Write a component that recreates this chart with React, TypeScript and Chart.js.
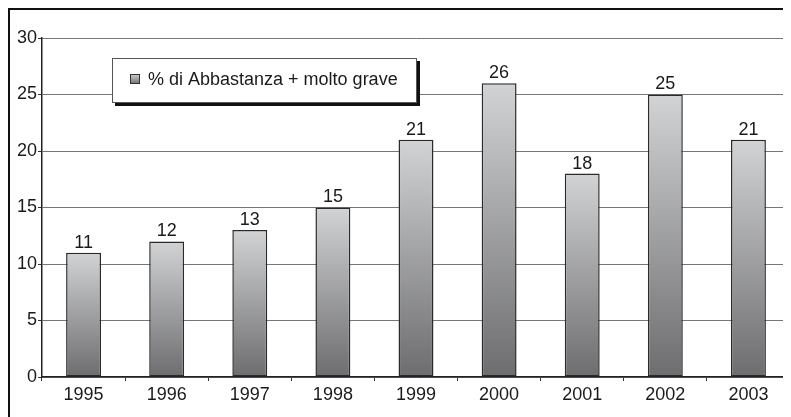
import React, { useEffect, useRef } from "react";
import { Chart, registerables } from "chart.js";

Chart.register(...registerables);

const categories = ["1995", "1996", "1997", "1998", "1999", "2000", "2001", "2002", "2003"];
const values = [11, 12, 13, 15, 21, 26, 18, 25, 21];
const seriesLabel = "% di Abbastanza + molto grave";
const yMin = 0;
const yMax = 30;
const yStep = 5;

const FONT = "'Liberation Sans', Arial, Helvetica, sans-serif";
const FS = 18;

const frame = {
  id: "frame",
  afterDraw(chart: any) {
    const ctx = chart.ctx;
    ctx.save();
    ctx.fillStyle = "#111";
    ctx.fillRect(0, 0, 2, chart.height);
    ctx.fillRect(0, 0, chart.width, 2);
    ctx.restore();
  },
};

const valueLabels = {
  id: "valueLabels",
  afterDatasetsDraw(chart: any) {
    const ctx = chart.ctx;
    const meta = chart.getDatasetMeta(0);
    ctx.save();
    ctx.font = `${FS}px ${FONT}`;
    ctx.fillStyle = "#1a1a1a";
    ctx.textAlign = "center";
    ctx.textBaseline = "bottom";
    meta.data.forEach((el: any, i: number) => {
      ctx.fillText(String(chart.data.datasets[0].data[i]), el.x, el.y - 1);
    });
    ctx.restore();
  },
};

const boxLegend = {
  id: "boxLegend",
  afterDraw(chart: any) {
    const ctx = chart.ctx;
    const x = 104, y = 50, w = 305, h = 45;
    ctx.save();
    ctx.fillStyle = "#111";
    ctx.fillRect(x + 3, y + 3, w, h);
    ctx.fillStyle = "#fff";
    ctx.fillRect(x, y, w, h);
    ctx.strokeStyle = "#555";
    ctx.lineWidth = 1;
    ctx.strokeRect(x + 0.5, y + 0.5, w - 1, h - 1);
    const sx = 122, sy = 66, s = 10;
    const g = ctx.createLinearGradient(0, sy, 0, sy + s);
    g.addColorStop(0, "#d0d1d3");
    g.addColorStop(1, "#707072");
    ctx.fillStyle = g;
    ctx.fillRect(sx, sy, s, s);
    ctx.strokeStyle = "#333";
    ctx.strokeRect(sx + 0.5, sy + 0.5, s - 1, s - 1);
    ctx.font = `${FS}px ${FONT}`;
    ctx.fillStyle = "#1a1a1a";
    ctx.textAlign = "left";
    ctx.textBaseline = "middle";
    ctx.fillText(chart.data.datasets[0].label, 140, y + h / 2);
    ctx.restore();
  },
};

export default function App() {
  const ref = useRef<HTMLCanvasElement | null>(null);

  useEffect(() => {
    if (!ref.current) return;
    const chart = new Chart(ref.current, {
      type: "bar",
      data: {
        labels: categories,
        datasets: [
          {
            label: seriesLabel,
            data: values,
            backgroundColor: (c: any) => {
              const ch = c.chart;
              const ys = ch.scales && ch.scales.y;
              if (!ch.chartArea || !ys || c.raw === undefined) return "#a0a0a2";
              const top = ys.getPixelForValue(c.raw);
              const bot = ys.getPixelForValue(0);
              const g = ch.ctx.createLinearGradient(0, top, 0, bot);
              g.addColorStop(0, "#d2d3d5");
              g.addColorStop(1, "#6d6d6f");
              return g;
            },
            borderColor: "#2a2a2a",
            borderWidth: 1.5,
            borderSkipped: false,
            barPercentage: 0.42,
            categoryPercentage: 1,
          },
        ],
      },
      options: {
        responsive: false,
        animation: false,
        layout: { padding: { top: 30, right: 1, left: 0, bottom: 0 } },
        plugins: {
          legend: { display: false },
          tooltip: { enabled: false },
        },
        scales: {
          x: {
            afterFit: (s: any) => {
              s.height = 40;
            },
            grid: {
              display: true,
              drawOnChartArea: false,
              drawTicks: true,
              tickLength: 4,
              tickColor: "#333",
              offset: true,
            },
            border: { display: true, color: "#222", width: 1.5 },
            ticks: {
              color: "#1a1a1a",
              font: { family: FONT, size: FS },
              padding: 3,
              maxRotation: 0,
            },
          },
          y: {
            min: yMin,
            max: yMax,
            afterFit: (s: any) => {
              s.width = 34;
            },
            grid: {
              color: "#777",
              lineWidth: 1,
              drawTicks: true,
              tickLength: 4,
              tickColor: "#333",
            },
            border: { display: true, color: "#222", width: 1.5 },
            ticks: {
              stepSize: yStep,
              color: "#1a1a1a",
              font: { family: FONT, size: FS },
              padding: 1,
            },
          },
        },
      },
      plugins: [valueLabels, boxLegend, frame],
    } as any);
    return () => chart.destroy();
  }, []);

  return (
    <canvas
      ref={ref}
      width={783}
      height={409}
      style={{ display: "block", width: 783, height: 409 }}
    />
  );
}
